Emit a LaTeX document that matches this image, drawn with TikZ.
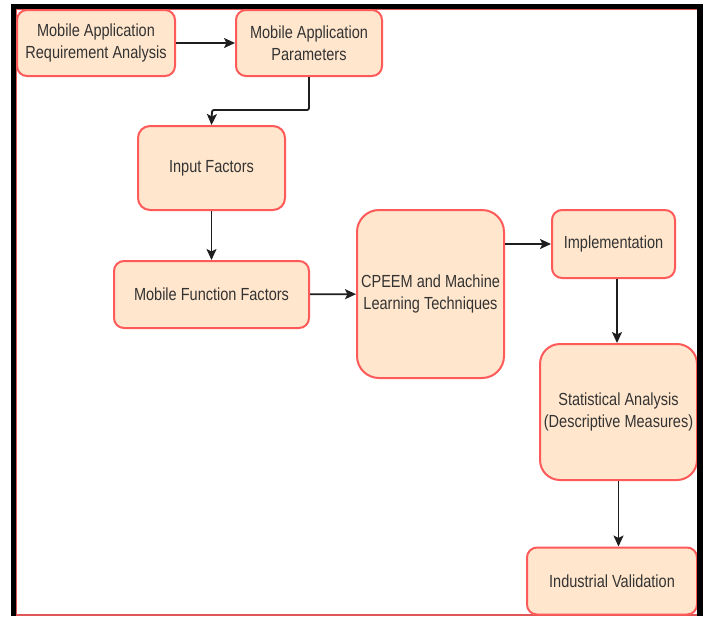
\documentclass[tikz,border=0pt]{standalone}
\usepackage{fontspec}
\setmainfont{Liberation Sans}[FakeStretch=0.83]
\usetikzlibrary{arrows.meta}
\definecolor{boxfill}{HTML}{FFE6CC}
\definecolor{boxline}{HTML}{FF5A5A}
\definecolor{txt}{HTML}{333333}
\definecolor{wire}{HTML}{1E1E1E}
\definecolor{frameline}{HTML}{E05555}
\begin{document}
\begin{tikzpicture}[x=1pt,y=-1pt,
  box/.style={draw=boxline, fill=boxfill, line width=2pt, align=center,
    text=txt, font=\fontsize{17.5}{22.5}\selectfont, inner sep=0pt},
  flow/.style={draw=wire, line width=1.8pt,
    -{Stealth[length=11pt,width=10pt,inset=2.5pt]}},
  edge/.style={line width=5.5pt, draw=black}]
\useasboundingbox (0,0) rectangle (708,616);
\fill[white] (0,0) rectangle (708,616);

% outer red outline of the canvas
\draw[frameline, line width=1.6pt] (16,9) rectangle (698,615);

% process boxes
\node[box, minimum width=158pt, minimum height=66pt, rounded corners=10pt] (b1) at (96,43)
  {Mobile Application\\Requirement Analysis};
\node[box, minimum width=146pt, minimum height=66pt, rounded corners=10pt] (b2) at (309,43)
  {Mobile Application\\Parameters};
\node[box, minimum width=147pt, minimum height=84pt, rounded corners=12pt] (b3) at (211.5,168)
  {Input Factors};
\node[box, minimum width=195pt, minimum height=67pt, rounded corners=10pt] (b4) at (211.5,294.5)
  {Mobile Function Factors};
\node[box, minimum width=147pt, minimum height=168pt, rounded corners=22pt] (b5) at (430.5,294)
  {CPEEM and Machine\\Learning Techniques};
\node[box, minimum width=123pt, minimum height=68pt, rounded corners=10pt] (b6) at (613.5,244)
  {Implementation};
\node[box, minimum width=157pt, minimum height=136pt, rounded corners=20pt] (b7) at (618.5,412)
  {Statistical Analysis\\(Descriptive Measures)};
\node[box, minimum width=170pt, minimum height=67pt, rounded corners=10pt] (b8) at (612,581)
  {Industrial Validation};

% connectors
\coordinate (k1) at (309,110);
\coordinate (k2) at (212,110);
\draw[flow] (b1) -- (b2);
\draw[flow, rounded corners=2pt] (b2.south) -- (k1) -- (k2) -- (b3.north);
\draw[flow] (b3) -- (b4);
\draw[flow] (b4) -- (b5);
\draw[flow] (b5.east |- b6.west) -- (b6.west);
\draw[flow] ([xshift=3.5pt]b6.south) -- ([xshift=3.5pt]b6.south |- b7.north);
\draw[flow] (b7.south) -- (b7.south |- b8.north);

% heavy black border on three sides
\draw[edge] (13.5,616) -- (13.5,6.5) -- (700,6.5) -- (700,616);
\end{tikzpicture}
\end{document}
